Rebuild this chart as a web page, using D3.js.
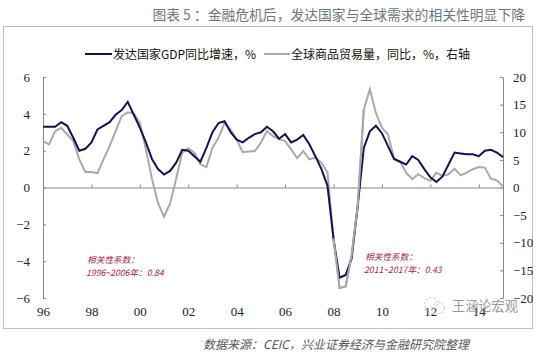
<!DOCTYPE html>
<html>
<head>
<meta charset="utf-8">
<script src="https://cdn.jsdelivr.net/npm/d3@7"></script>
<style>
  html, body { margin: 0; padding: 0; background: #fff; }
  svg { display: block; }
  .tick text { font-family: "Liberation Serif", serif; font-size: 13px; fill: #222; }
  .cjk { font-family: "Noto Sans CJK SC", sans-serif; }
</style>
</head>
<body>
<svg id="chart" width="541" height="353"></svg>
<script>
// values, quarterly from 96 Q1
const gdp = [3.3,3.3,3.3,3.55,3.35,2.7,2.0,2.1,2.45,3.15,3.35,3.55,3.95,4.2,4.65,3.95,3.25,2.45,1.55,1.0,
  0.7,0.9,1.35,2.05,2.0,1.7,1.4,2.15,3.0,3.5,3.6,3.0,2.6,2.45,2.7,2.9,3.0,3.3,3.05,2.65,
  2.9,2.45,2.6,2.85,2.35,1.7,1.0,0.1,-2.8,-4.9,-4.75,-3.85,-1.0,2.15,3.05,3.35,2.95,2.25,1.55,1.4,
  1.25,1.7,1.5,1.0,0.55,0.3,0.6,1.25,1.9,1.85,1.8,1.8,1.7,2.0,2.05,1.9,1.65];
const trade = [8.4,7.8,10.2,10.8,9.6,8.4,5.1,2.8,2.8,2.6,5.1,7.5,10.2,12.9,13.6,13.4,11.7,6.9,1.6,-2.8,
  -5.3,-2.9,1.6,6.3,7.1,6.3,4.2,3.7,7.2,9.0,11.7,10.5,8.7,6.4,6.5,6.6,8.1,10.2,9.3,8.7,
  8.4,6.9,5.3,6.6,5.1,5.4,4.5,2.7,-9.2,-18.2,-17.9,-12.2,-3.2,14.1,17.8,13.5,10.8,9.6,5.2,4.7,
  2.7,1.5,2.4,1.7,1.2,2.7,2.1,2.4,3.4,2.2,2.7,3.3,3.7,3.6,1.6,1.3,0.2];
const yearLabels = ["96","98","00","02","04","06","08","10","12","14"];
const yearIndex = [0,8,16,24,32,40,48,56,64,72];
const leftTicks = [-6,-4,-2,0,2,4,6];
const rightTicks = [-20,-15,-10,-5,0,5,10,15,20];
// full width punctuation
const comma = "\uFF0C", colon = "\uFF1A";
const gdpName = "发达国家GDP同比增速" + comma + "%";
const tradeName = "全球商品贸易量" + comma + "同比" + comma + "%" + comma + "右轴";
const titleText = "图表 5 " + colon + "金融危机后" + comma + "发达国家与全球需求的相关性明显下降";
const sourceText = "数据来源" + colon + "CEIC" + comma + "兴业证券经济与金融研究院整理";

const svg = d3.select("#chart");
const plotLeft = 43, plotRight = 503, plotTop = 77, plotBottom = 298;

let x = d3.scaleLinear().domain([0, gdp.length - 1]).range([plotLeft, plotRight]);
let yL = d3.scaleLinear().domain([-6, 6]).range([plotBottom, plotTop]);
let yR = d3.scaleLinear().domain([-20, 20]).range([plotBottom, plotTop]);

// frame
svg.append("rect")
  .attr("x", 3.5).attr("y", 26.5).attr("width", 529).attr("height", 302)
  .attr("fill", "#fff").attr("stroke", "#bdbdbd").attr("stroke-width", 1);

svg.append("text").attr("class", "cjk")
  .attr("x", 525).attr("y", 20).attr("text-anchor", "end")
  .attr("font-size", 13.8).attr("fill", "#6b7783")
  .text(titleText);

// axes
let xAxis = d3.axisBottom(x).tickValues(yearIndex)
  .tickFormat((d, i) => yearLabels[i])
  .tickSizeInner(-3).tickSizeOuter(0).tickPadding(119);
let leftAxis = d3.axisLeft(yL).tickValues(leftTicks).tickFormat(d3.format("d"))
  .tickSizeInner(-3).tickSizeOuter(0).tickPadding(13);
let rightAxis = d3.axisRight(yR).tickValues(rightTicks).tickFormat(d3.format("d"))
  .tickSizeInner(-3).tickSizeOuter(0).tickPadding(10);

const ax = [
  svg.append("g").attr("transform", "translate(0," + yL(0) + ")").call(xAxis),
  svg.append("g").attr("transform", "translate(" + plotLeft + ",0)").call(leftAxis),
  svg.append("g").attr("transform", "translate(" + plotRight + ",0)").call(rightAxis)
];
ax.forEach(g => {
  g.selectAll(".domain, .tick line").attr("stroke", "#858585");
  g.attr("font-family", null).attr("font-size", null);
});

// lines
svg.append("path").datum(trade)
  .attr("d", d3.line().x((d, i) => x(i)).y(d => yR(d)))
  .attr("fill", "none").attr("stroke", "#a9a9a9").attr("stroke-width", 2);
svg.append("path").datum(gdp)
  .attr("d", d3.line().x((d, i) => x(i)).y(d => yL(d)))
  .attr("fill", "none").attr("stroke", "#14124f").attr("stroke-width", 2);
// gray runs over the navy through the 2008 drop
svg.append("path").datum(trade.slice(48, 54))
  .attr("d", d3.line().x((d, i) => x(i + 48)).y(d => yR(d)))
  .attr("fill", "none").attr("stroke", "#a9a9a9").attr("stroke-width", 2);

// legend
svg.append("line").attr("x1", 85).attr("x2", 112).attr("y1", 54).attr("y2", 54)
  .attr("stroke", "#14124f").attr("stroke-width", 2);
svg.append("text").attr("class", "cjk").attr("x", 113).attr("y", 59)
  .attr("font-size", 12).attr("fill", "#111").text(gdpName);
svg.append("line").attr("x1", 264).attr("x2", 290).attr("y1", 54).attr("y2", 54)
  .attr("stroke", "#a9a9a9").attr("stroke-width", 2);
svg.append("text").attr("class", "cjk").attr("x", 291).attr("y", 59)
  .attr("font-size", 12).attr("fill", "#111").text(tradeName);

// correlation notes
const notes = [
  [87, 263, "相关性系数" + colon],
  [86, 276, "1996~2006年" + colon + "0.84"],
  [365, 260, "相关性系数" + colon],
  [364, 273, "2011~2017年" + colon + "0.43"]
];
svg.selectAll(".note").data(notes).enter().append("text")
  .attr("class", "note cjk")
  .attr("x", d => d[0]).attr("y", d => d[1])
  .attr("font-size", 8.7).attr("font-style", "italic").attr("fill", "#a3263f")
  .text(d => d[2]);

// source line
svg.append("text").attr("class", "cjk")
  .attr("x", 203).attr("y", 349)
  .attr("font-size", 12).attr("font-style", "italic").attr("fill", "#555")
  .text(sourceText);

// watermark
const mark = svg.append("g").attr("opacity", 0.75);
mark.append("circle").attr("cx", 431).attr("cy", 304).attr("r", 6.5)
  .attr("fill", "none").attr("stroke", "#bbb").attr("stroke-width", 1.2).attr("stroke-dasharray", "2 2");
mark.append("circle").attr("cx", 439).attr("cy", 308).attr("r", 5.5)
  .attr("fill", "none").attr("stroke", "#bbb").attr("stroke-width", 1.2).attr("stroke-dasharray", "2 2");
mark.append("text").attr("class", "cjk").attr("x", 452).attr("y", 311)
  .attr("font-size", 13.2).attr("fill", "#777").text("王涵论宏观");
</script>
</body>
</html>
